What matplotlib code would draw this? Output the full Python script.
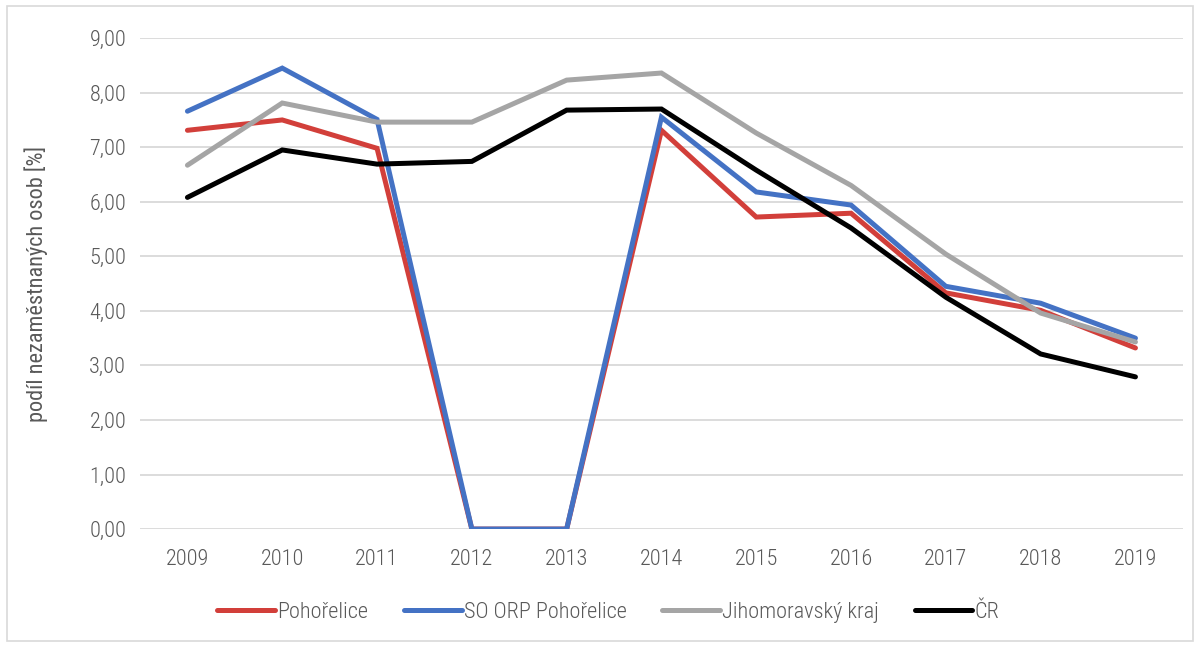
import matplotlib
matplotlib.use('Agg')
import matplotlib.pyplot as plt
from matplotlib import font_manager
from matplotlib.patches import Rectangle

# pick a narrow font if one is there
names = set(f.name for f in font_manager.fontManager.ttflist)
for fam in ['Liberation Sans Narrow', 'Roboto Condensed', 'Open Sans Condensed', 'Roboto']:
    if fam in names:
        plt.rcParams['font.family'] = [fam, 'DejaVu Sans']
        break
plt.rcParams['font.weight'] = 'light'

years = ['2009', '2010', '2011', '2012', '2013', '2014', '2015', '2016', '2017', '2018', '2019']
pohorelice = [7.31, 7.50, 6.98, 0.0, 0.0, 7.31, 5.72, 5.79, 4.33, 4.01, 3.32]
so_orp = [7.66, 8.45, 7.51, 0.0, 0.0, 7.55, 6.18, 5.94, 4.45, 4.14, 3.50]
jmk = [6.67, 7.81, 7.46, 7.46, 8.23, 8.36, 7.26, 6.30, 5.04, 3.96, 3.43]
cr = [6.08, 6.95, 6.69, 6.74, 7.68, 7.70, 6.58, 5.52, 4.25, 3.21, 2.79]

series = [
    ('Pohořelice', pohorelice, '#d23f3a'),
    ('SO ORP Pohořelice', so_orp, '#4472c4'),
    ('Jihomoravský kraj', jmk, '#a5a5a5'),
    ('ČR', cr, '#000000'),
]

fig = plt.figure(figsize=(12, 6.46), dpi=100)
ax = fig.add_axes([0.1167, 0.181, 0.869, 0.76])

x = range(len(years))
for name, vals, col in series:
    ax.plot(x, vals, color=col, lw=3.6, label=name, solid_capstyle='round',
            solid_joinstyle='miter')

ax.set_xlim(-0.5, len(years) - 0.5)
ax.set_ylim(0, 9)
ax.set_yticks(range(0, 10))
ax.set_yticklabels(['%d,00' % v for v in range(0, 10)])
ax.set_xticks(list(x))
ax.set_xticklabels(years)
ax.grid(axis='y', color='#d9d9d9', lw=1.3)
ax.set_axisbelow(True)
for s in ax.spines.values():
    s.set_visible(False)
ax.tick_params(length=0, labelsize=16, colors='#595959', pad=10)
ax.tick_params(axis='x', pad=14)
ax.set_ylabel('podíl nezaměstnaných osob [%]', fontsize=16, color='#595959', labelpad=30)

leg = fig.legend(loc='center', bbox_to_anchor=(0.507, 0.052), ncol=4, frameon=False,
                 fontsize=16, handlelength=2.6, handletextpad=0.1, columnspacing=1.6)
for t in leg.get_texts():
    t.set_color('#595959')

# outer chart border
fig.patches.append(Rectangle((0.006, 0.008), 0.988, 0.982, transform=fig.transFigure,
                             fill=False, edgecolor='#d9d9d9', lw=1.2))

fig.savefig('out.png', dpi=100)
